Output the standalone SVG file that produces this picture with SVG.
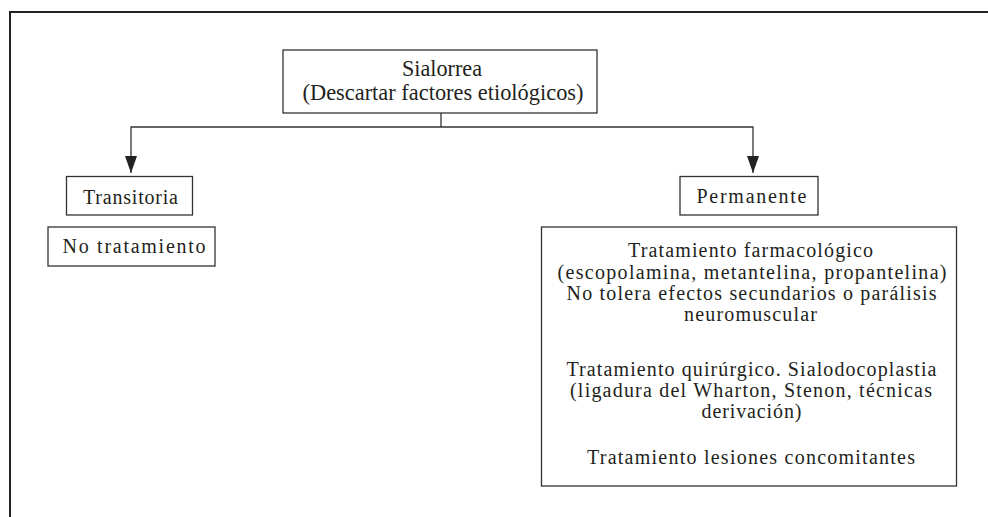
<svg xmlns="http://www.w3.org/2000/svg" width="988" height="517" viewBox="0 0 988 517">
<style>
.box{fill:#fff;stroke:#333;stroke-width:1.3}
.frame{stroke:#222;stroke-width:2;fill:none}
.t{font-family:"Liberation Serif","Times New Roman",serif;font-size:20px;fill:#231f20;text-anchor:middle}
.big{font-size:23px}
.conn{stroke:#333;stroke-width:1.3;fill:none}
</style>
<defs>
<marker id="arr" markerWidth="17" markerHeight="12" refX="17" refY="6" orient="auto" markerUnits="userSpaceOnUse" viewBox="0 0 17 12">
<path d="M0,0 L17,6 L0,12 Z" fill="#222"/>
</marker>
</defs>
<rect width="988" height="517" fill="#fff"/>
<g id="frame">
<line class="frame" x1="10" y1="12" x2="988" y2="12"/>
<line class="frame" x1="10" y1="11" x2="10" y2="517"/>
</g>
<g id="connectors">
<polyline class="conn" points="441,113 441,127"/>
<polyline class="conn" points="441,127 131,127 131,173" marker-end="url(#arr)"/>
<polyline class="conn" points="441,127 753,127 753,173" marker-end="url(#arr)"/>
</g>
<g id="sialorrea">
<rect class="box" x="283" y="50" width="314" height="63"/>
<text class="t big" x="442" y="76" textLength="80" lengthAdjust="spacingAndGlyphs">Sialorrea</text>
<text class="t big" x="443" y="100" textLength="281" lengthAdjust="spacingAndGlyphs">(Descartar factores etiológicos)</text>
</g>
<g id="transitoria">
<rect class="box" x="66.5" y="176.5" width="126" height="38.5"/>
<text class="t" x="130.5" y="204" textLength="95" lengthAdjust="spacing">Transitoria</text>
</g>
<g id="no-tratamiento">
<rect class="box" x="48" y="227" width="167" height="39"/>
<text class="t" x="134" y="253" textLength="143" lengthAdjust="spacing">No tratamiento</text>
</g>
<g id="permanente">
<rect class="box" x="680" y="176.5" width="138" height="38.5"/>
<text class="t" x="751.5" y="203" textLength="110" lengthAdjust="spacing">Permanente</text>
</g>
<g id="tratamientos">
<rect class="box" x="541.5" y="227" width="415" height="259"/>
<text class="t" x="750.5" y="257" textLength="245" lengthAdjust="spacing">Tratamiento farmacológico</text>
<text class="t" x="752" y="279" textLength="389" lengthAdjust="spacing">(escopolamina, metantelina, propantelina)</text>
<text class="t" x="751.5" y="300" textLength="370" lengthAdjust="spacing">No tolera efectos secundarios o parálisis</text>
<text class="t" x="750.5" y="321" textLength="133" lengthAdjust="spacing">neuromuscular</text>
<text class="t" x="751.5" y="376" textLength="370" lengthAdjust="spacing">Tratamiento quirúrgico. Sialodocoplastia</text>
<text class="t" x="751" y="397" textLength="362" lengthAdjust="spacing">(ligadura del Wharton, Stenon, técnicas</text>
<text class="t" x="751.5" y="418" textLength="100" lengthAdjust="spacing">derivación)</text>
<text class="t" x="751" y="464" textLength="328" lengthAdjust="spacing">Tratamiento lesiones concomitantes</text>
</g>
</svg>
